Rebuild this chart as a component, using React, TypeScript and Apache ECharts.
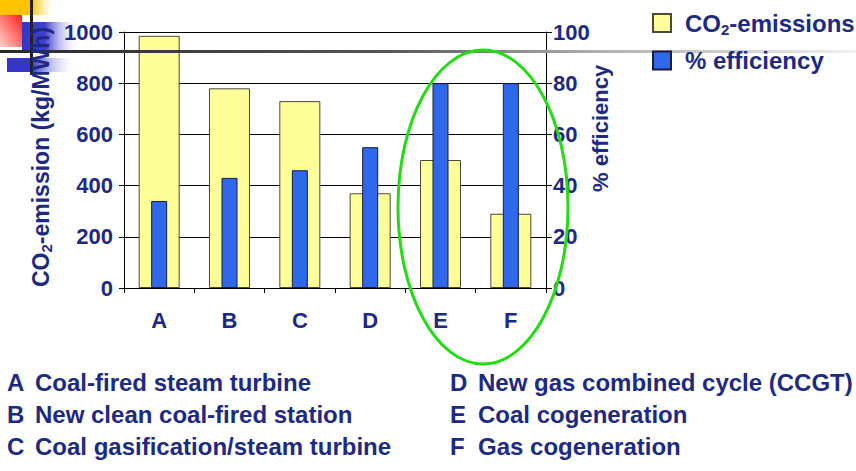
import React, { useEffect, useRef } from "react";
import * as echarts from "echarts";

const categories = ["A", "B", "C", "D", "E", "F"];
const co2Emissions = [985, 780, 730, 370, 500, 290];
const efficiency = [34, 43, 46, 55, 80, 80];
const leftTicks = [0, 200, 400, 600, 800, 1000];
const rightTicks = [0, 20, 40, 60, 80, 100];
const notesLeft = [
  ["A", "Coal-fired steam turbine"],
  ["B", "New clean coal-fired station"],
  ["C", "Coal gasification/steam turbine"],
];
const notesRight = [
  ["D", "New gas combined cycle (CCGT)"],
  ["E", "Coal cogeneration"],
  ["F", "Gas cogeneration"],
];

const NAVY = "#1c2a84";
const FONT = "'Liberation Sans', Arial, sans-serif";

export default function App() {
  const ref = useRef<HTMLDivElement>(null);
  useEffect(() => {
    if (!ref.current) return;
    const chart = echarts.init(ref.current, null, { renderer: "svg" });
    const richSubGraphic = {
      n: { fontSize: 23, fontWeight: "bold", fill: NAVY, fontFamily: FONT, lineHeight: 26 },
      s: { fontSize: 15, fontWeight: "bold", fill: NAVY, fontFamily: FONT, lineHeight: 15, verticalAlign: "bottom" as const },
    };
    const boldRich = { b: { fontSize: 22, fontWeight: "bold", color: NAVY, fontFamily: FONT } };
    const noteEls: any[] = [];
    const lineYs = [382, 414, 446];
    notesLeft.forEach((n, i) => {
      noteEls.push({ type: "text", x: 7, y: lineYs[i], z: 10, style: { text: n[0], font: `bold 24px ${FONT}`, fill: NAVY, verticalAlign: "middle" } });
      noteEls.push({ type: "text", x: 35, y: lineYs[i], z: 10, style: { text: n[1], font: `bold 24px ${FONT}`, fill: NAVY, verticalAlign: "middle" } });
    });
    notesRight.forEach((n, i) => {
      noteEls.push({ type: "text", x: 450, y: lineYs[i], z: 10, style: { text: n[0], font: `bold 24px ${FONT}`, fill: NAVY, verticalAlign: "middle" } });
      noteEls.push({ type: "text", x: 478, y: lineYs[i], z: 10, style: { text: n[1], font: `bold 24px ${FONT}`, fill: NAVY, verticalAlign: "middle" } });
    });

    chart.setOption({
      animation: false,
      backgroundColor: "#ffffff",
      grid: { left: 124, right: 310, top: 32, bottom: 183, containLabel: false },
      legend: {
        orient: "vertical",
        left: 647,
        top: 6,
        itemWidth: 18,
        itemHeight: 18,
        itemGap: 12,
        icon: "rect",
        z: 10,
        formatter: (name: string) =>
          name === "CO2-emissions" ? "{p|}{n|CO}{s|2}{n|-emissions}" : "{p|}{n|% efficiency}",
        textStyle: {
          color: NAVY,
          rich: {
            p: { width: 9 },
            n: { fontSize: 24, fontWeight: "bold", color: NAVY, fontFamily: FONT, lineHeight: 27 },
            s: { fontSize: 15, fontWeight: "bold", color: NAVY, fontFamily: FONT, lineHeight: 15, verticalAlign: "bottom" },
          },
        },
      },
      xAxis: [
        {
          type: "category",
          data: categories,
          axisLine: { lineStyle: { color: "#000", width: 1 } },
          axisTick: { show: true, alignWithLabel: false, length: 5, lineStyle: { color: "#000" } },
          axisLabel: { margin: 21, formatter: (v: string) => `{b|${v}}`, rich: boldRich },
        },
        {
          type: "category",
          data: categories,
          position: "bottom",
          show: false,
        },
      ],
      yAxis: [
        {
          type: "value",
          min: 0,
          max: 1000,
          interval: 200,
          position: "left",
          axisLine: { show: true, lineStyle: { color: "#000", width: 1 } },
          axisTick: { show: true, length: 5, lineStyle: { color: "#000" } },
          axisLabel: {
            margin: 11,
            formatter: (v: number) => (leftTicks.includes(v) ? `{b|${v}}` : ""),
            rich: boldRich,
          },
          splitLine: { show: true, lineStyle: { color: "#000", width: 1 } },
        },
        {
          type: "value",
          min: 0,
          max: 100,
          interval: 20,
          position: "right",
          axisLine: { show: true, lineStyle: { color: "#000", width: 1 } },
          axisTick: { show: true, length: 6, lineStyle: { color: "#000" } },
          axisLabel: {
            margin: 7,
            formatter: (v: number) => (rightTicks.includes(v) ? `{b|${v}}` : ""),
            rich: boldRich,
          },
          splitLine: { show: false },
        },
      ],
      series: [
        {
          name: "CO2-emissions",
          type: "bar",
          xAxisIndex: 0,
          yAxisIndex: 0,
          data: co2Emissions,
          barWidth: 41,
          itemStyle: { color: "#ffff99", borderColor: "#4a4a3a", borderWidth: 1 },
          z: 2,
        },
        {
          name: "% efficiency",
          type: "bar",
          xAxisIndex: 1,
          yAxisIndex: 1,
          data: efficiency,
          barWidth: 16,
          itemStyle: { color: "#2f68ea", borderColor: "#1a1a40", borderWidth: 1 },
          z: 3,
        },
      ],
      graphic: [
        {
          type: "rect", z: -10, shape: { x: 0, y: 0, width: 52, height: 15 },
          style: { fill: new echarts.graphic.LinearGradient(0, 0, 1, 0, [
            { offset: 0, color: "#ffc400" }, { offset: 0.6, color: "#ffc400" }, { offset: 1, color: "rgba(255,220,120,0)" },
          ]) },
        },
        {
          type: "rect", z: -9, shape: { x: 0, y: 15, width: 22, height: 32 },
          style: { fill: new echarts.graphic.LinearGradient(1, 0, 0, 1, [
            { offset: 0, color: "#ff2020" }, { offset: 1, color: "#ffd0c8" },
          ]) },
        },
        {
          type: "rect", z: -8, shape: { x: 22, y: 22, width: 58, height: 28 },
          style: { fill: new echarts.graphic.LinearGradient(0, 0, 1, 0, [
            { offset: 0, color: "#3535c8" }, { offset: 0.4, color: "#4040cc" }, { offset: 1, color: "rgba(255,255,255,0)" },
          ]) },
        },
        {
          type: "rect", z: -8, shape: { x: 7, y: 58, width: 70, height: 14 },
          style: { fill: new echarts.graphic.LinearGradient(0, 0, 1, 0, [
            { offset: 0, color: "#3535c8" }, { offset: 0.35, color: "#3535c8" }, { offset: 1, color: "rgba(255,255,255,0)" },
          ]) },
        },
        {
          type: "rect", z: 50, shape: { x: 30, y: 0, width: 3, height: 75 },
          style: { fill: "#222" },
        },
        {
          type: "rect", z: 4, shape: { x: 0, y: 50, width: 856, height: 3 },
          style: { fill: new echarts.graphic.LinearGradient(0, 0, 1, 0, [
            { offset: 0, color: "#2a2a2a" }, { offset: 0.45, color: "#555" }, { offset: 0.7, color: "#b0b0b0" }, { offset: 1, color: "#f0f0f0" },
          ]) },
        },
        {
          type: "text", z: 60, x: 41, y: 287, rotation: Math.PI / 2,
          style: { text: "{n|CO}{s|2}{n|-emission (kg/MWh)}", rich: richSubGraphic, align: "left", verticalAlign: "middle" },
        },
        {
          type: "text", z: 60, x: 600, y: 192, rotation: Math.PI / 2,
          style: { text: "% efficiency", font: `bold 22px ${FONT}`, fill: NAVY, align: "left", verticalAlign: "middle" },
        },
        {
          type: "ellipse", z: 100,
          shape: { cx: 483, cy: 207, rx: 85, ry: 157 },
          style: { fill: "none", stroke: "#22dd11", lineWidth: 3 },
        },
        ...noteEls,
      ],
    });
    return () => chart.dispose();
  }, []);
  return <div ref={ref} style={{ width: 856, height: 471, position: "absolute", left: 0, top: 0 }} />;
}
